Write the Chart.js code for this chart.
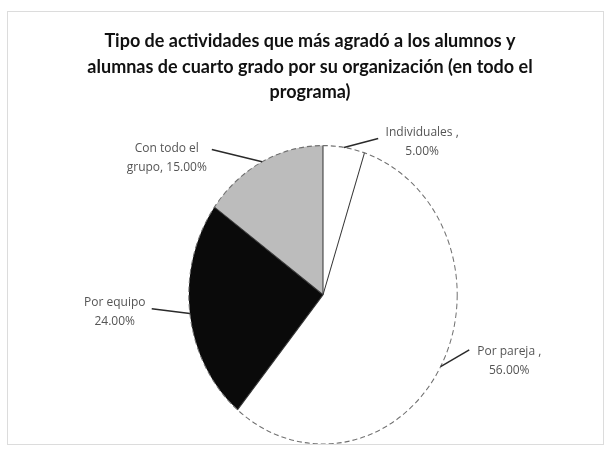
<!DOCTYPE html>
<html>
<head>
<meta charset="utf-8">
<script src="https://cdn.jsdelivr.net/npm/chart.js@4/dist/chart.umd.min.js"></script>
<style>
    html, body { margin: 0; padding: 0; background: #fff; }
    #wrap { position: relative; width: 607px; height: 451px; }
    #frame { position: absolute; left: 7px; top: 11px; width: 595px; height: 432px; border: 1px solid #dcdcdc; pointer-events: none; }
    canvas { position: absolute; left: 0; top: 0; }
</style>
</head>
<body>
<div id="wrap">
    <canvas id="pieChart" width="607" height="451"></canvas>
    <div id="frame"></div>
</div>
<script>
// Data
const categories = ['Individuales', 'Por pareja', 'Por equipo', 'Con todo el grupo'];
const values = [5, 56, 24, 15];
const labelFirst = ['Individuales ,', 'Por pareja ,', 'Por equipo', 'Con todo el'];
const labelSecondPrefix = ['', '', '', 'grupo, '];
const titleLines = [
    'Tipo de actividades que más agradó a los alumnos y',
    'alumnas de cuarto grado por su organización (en todo el',
    'programa)'
];
const sliceColors = ['#ffffff', '#ffffff', '#0a0a0a', '#bcbcbc'];

// The scanned pie is a bit taller than wide, and sits right of the title centre
const SHIFT_X = 13;
const STRETCH_Y = 1.112;

// label anchor (radius units from centre) and leader end (px from anchor)
const labelSpots = [
    { dx: 0.739, dy: -1.209, lx: -44, ly: 6 },
    { dx: 1.388, dy: 0.425, lx: -40, ly: -2 },
    { dx: -1.552, dy: 0.06, lx: 37, ly: 6 },
    { dx: -1.164, dy: -1.09, lx: 45, ly: 1 }
];

const pieDecor = {
    id: 'pieDecor',
    beforeDatasetsDraw(chart) {
        const a = chart.getDatasetMeta(0).data[0];
        const ctx = chart.ctx;
        ctx.save();
        ctx.translate(a.x + SHIFT_X, a.y);
        ctx.scale(1, STRETCH_Y);
        ctx.translate(-a.x, -a.y);
    },
    afterDatasetsDraw(chart) {
        const ctx = chart.ctx;
        const arcs = chart.getDatasetMeta(0).data;
        const { x, y, outerRadius: r } = arcs[0];

        // slice edges
        ctx.lineWidth = 1;
        ctx.strokeStyle = '#333';
        arcs.forEach(arc => {
            ctx.beginPath();
            ctx.moveTo(x, y);
            ctx.lineTo(x + r * Math.cos(arc.startAngle), y + r * Math.sin(arc.startAngle));
            ctx.stroke();
        });

        // dashed outline
        ctx.setLineDash([5, 3]);
        ctx.strokeStyle = '#707070';
        ctx.beginPath();
        ctx.arc(x, y, r, 0, Math.PI * 2);
        ctx.stroke();
        ctx.restore();

        // labels + leader lines
        const cx = x + SHIFT_X;
        ctx.save();
        ctx.font = '12px "Open Sans"';
        ctx.fillStyle = '#555';
        ctx.textAlign = 'center';
        ctx.textBaseline = 'middle';
        arcs.forEach((arc, i) => {
            const spot = labelSpots[i];
            const tx = cx + spot.dx * r;
            const ty = y + spot.dy * r;
            const mid = (arc.startAngle + arc.endAngle) / 2;
            const ex = cx + r * Math.cos(mid);
            const ey = y + STRETCH_Y * r * Math.sin(mid);

            ctx.strokeStyle = '#2a2a2a';
            ctx.lineWidth = 1.5;
            ctx.beginPath();
            ctx.moveTo(ex, ey);
            ctx.lineTo(tx + spot.lx, ty + spot.ly);
            ctx.stroke();

            ctx.fillText(labelFirst[i], tx, ty);
            ctx.fillText(labelSecondPrefix[i] + values[i].toFixed(2) + '%', tx, ty + 19);
        });
        ctx.restore();
    }
};

new Chart(document.getElementById('pieChart'), {
    type: 'pie',
    data: {
        labels: categories,
        datasets: [{
            data: values,
            backgroundColor: sliceColors,
            borderWidth: 0
        }]
    },
    options: {
        responsive: false,
        animation: false,
        layout: { padding: { left: 60, right: 47, top: 0, bottom: 22 } },
        plugins: {
            legend: { display: false },
            tooltip: { enabled: false },
            title: {
                display: true,
                text: titleLines,
                color: '#111',
                font: { family: 'Lato', size: 18, weight: 'bold', lineHeight: 1.4 },
                padding: { top: 29, bottom: 56 }
            }
        }
    },
    plugins: [pieDecor]
});
</script>
</body>
</html>
